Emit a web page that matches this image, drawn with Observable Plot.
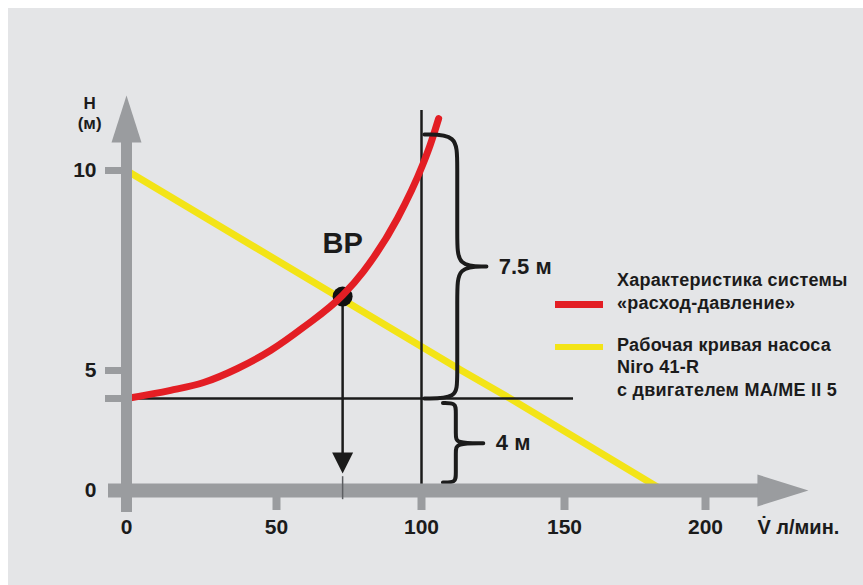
<!DOCTYPE html>
<html>
<head>
<meta charset="utf-8">
<script src="https://cdn.jsdelivr.net/npm/d3@7"></script>
<script src="https://cdn.jsdelivr.net/npm/@observablehq/plot@0.6"></script>
<style>
  html, body { margin: 0; padding: 0; background: #ffffff; }
  #wrap { position: relative; width: 863px; height: 585px; overflow: hidden; }
  #panel { position: absolute; left: 8px; top: 8px; right: 0; bottom: 0; background: #e4e5e7; }
  #chart { position: absolute; left: 0; top: 0; }
  #legend { position: absolute; left: 555px; top: 269px; font-family: "Liberation Sans", Arial, sans-serif; font-weight: bold; font-size: 18px; color: #1b1b1b; letter-spacing: 0.25px; white-space: nowrap; }
  .item { position: relative; padding-left: 62px; line-height: 22.8px; }
  .item + .item { margin-top: 19px; }
  .sw { position: absolute; left: 0; width: 48px; }
</style>
</head>
<body>
<div id="wrap">
  <div id="panel"></div>
  <div id="chart"></div>
  <div id="legend"></div>
</div>
<script>
// ---- data ----
const xTicks = [0, 50, 100, 150, 200];
const yTicks = [0, 4, 5, 10];
const yTickLabels = [0, 5, 10];
const yMinorTicks = [4, 5, 10];

// system characteristic «расход-давление» (red)
const systemQ = [0, 14.7, 25.7, 37, 48, 59.3, 72.8, 80, 91.7, 100.35, 103.1, 106];
const systemH = [4, 4.29, 4.57, 5.05, 5.5, 6.08, 6.88, 7.48, 8.8, 10.13, 10.65, 11.3];

// pump working curve Niro 41-R (yellow)
const pumpQ = [0, 114, 131, 185];
const pumpH = [10, 5, 4, 0];

// operating point BP
const bpLabel = "ВР";
const bpQ = 72.8;
const bpH = 6.85;

// reference lines
const refQ = 100;
const refH = 4;

// braces (height differences)
const braceLabels = ["7.5 м", "4 м"];
const braceFrom = [4, 0.35];
const braceTo = [10.9, 3.8];
const braceMid = [7.6, 2.05];

const legendLabels = ["Характеристика системы<br>«расход-давление»", "Рабочая кривая насоса<br>Niro 41-R<br>с двигателем MA/ME II 5"];
const legendColors = ["#e31e24", "#f3e417"];

// ---- styling ----
const FONT = '"Liberation Sans",Arial,sans-serif';
const GRAY = "#9a9c9f";
const INK = "#1b1b1b";
const RED = legendColors[0];
const YELLOW = legendColors[1];

const system = systemQ.map((q, i) => ({q, h: systemH[i]}));
const pump = pumpQ.map((q, i) => ({q, h: pumpH[i]}));

function brace(i, x0, xb, xt) {
  const y0 = braceFrom[i], y1 = braceTo[i], ym = braceMid[i];
  const d = (y1 - y0) * 0.1;
  return [
    [x0, y1], [xb, y1], [xb, y1 - d], [xb, ym + d], [xb, ym],
    [xt, ym], [xt, ym], [xt, ym],
    [xb, ym], [xb, ym - d], [xb, y0 + d], [xb, y0], [x0, y0]
  ].map(([q, h]) => ({q, h, k: i}));
}
const braces = [...brace(0, 101, 112.5, 122.7), ...brace(1, 107.5, 112, 121.6)];

const arrowUp = {draw(c) { c.moveTo(0, 0); c.lineTo(15, 47); c.lineTo(-15, 47); c.closePath(); }};
const arrowRight = {draw(c) { c.moveTo(0, 0); c.lineTo(-51, 16); c.lineTo(-51, -16); c.closePath(); }};
const arrowDown = {draw(c) { c.moveTo(0, 0); c.lineTo(-10.5, -21); c.lineTo(10.5, -21); c.closePath(); }};

const xAxisStart = -6, xAxisEnd = 219, xAxisTip = 236.5;
const yAxisStart = -0.96, yAxisEnd = 10.8, yAxisTip = 11.875;

const txt = {fontWeight: "bold", fontFamily: FONT, fill: INK};

const chart = Plot.plot({
  width: 863,
  height: 585,
  margin: 0,
  style: {background: "transparent", overflow: "visible"},
  x: {type: "linear", domain: xTicks, range: [126, 276, 421, 564, 705], axis: null},
  y: {type: "linear", domain: yTicks, range: [490, 398, 370, 170], axis: null},
  marks: [
    // pump curve
    Plot.line(pump, {x: "q", y: "h", stroke: YELLOW, strokeWidth: 7}),
    // reference lines
    Plot.ruleY([refH], {x1: 0, x2: 153.2, stroke: INK, strokeWidth: 2.5}),
    Plot.ruleX([refQ], {y1: 0, y2: 11.5, stroke: INK, strokeWidth: 2.5}),
    // drop from BP to the flow axis
    Plot.ruleX([bpQ], {y1: bpH, y2: 1.6, stroke: INK, strokeWidth: 2.5}),
    Plot.dot([{q: bpQ, h: 0.74}], {x: "q", y: "h", symbol: arrowDown, r: 5, fill: INK, stroke: "none"}),
    // operating point
    Plot.dot([{q: bpQ, h: bpH}], {x: "q", y: "h", r: 10, fill: "#111", stroke: "none"}),
    // system curve
    Plot.line(system, {x: "q", y: "h", stroke: RED, strokeWidth: 7, curve: "monotone-x"}),
    // braces
    Plot.line(braces, {x: "q", y: "h", z: "k", stroke: INK, strokeWidth: 4, curve: "basis"}),
    // axes
    Plot.ruleX([0], {y1: yAxisStart, y2: yAxisEnd, stroke: GRAY, strokeWidth: 11}),
    Plot.ruleY(yMinorTicks, {x1: -7, x2: 0, stroke: GRAY, strokeWidth: 7}),
    Plot.ruleY([0], {x1: xAxisStart, x2: xAxisEnd, stroke: GRAY, strokeWidth: 14}),
    Plot.ruleX(xTicks.slice(1), {y1: -0.87, y2: 0, stroke: GRAY, strokeWidth: 8}),
    Plot.dot([{q: 0, h: yAxisTip}], {x: "q", y: "h", symbol: arrowUp, r: 5, fill: GRAY, stroke: "none"}),
    Plot.dot([{q: xAxisTip, h: 0}], {x: "q", y: "h", symbol: arrowRight, r: 5, fill: GRAY, stroke: "none"}),
    Plot.ruleX([bpQ], {y1: -0.4, y2: 0.6, stroke: "#5d5f62", strokeWidth: 1.5}),
    // tick labels
    Plot.text(yTickLabels, {x: -10, y: d => d, text: d => String(d), textAnchor: "end", fontSize: 21, ...txt}),
    Plot.text(xTicks, {x: d => d, y: 0, dy: 37, text: d => String(d), fontSize: 21, ...txt}),
    Plot.text(["H\n(м)"], {x: -12.3, y: 11.45, text: d => d, fontSize: 17, lineHeight: 1.15, ...txt}),
    Plot.text(["V\u0307 л/мин."], {x: 218.4, y: 0, dy: 37, text: d => d, textAnchor: "start", fontSize: 20, ...txt}),
    // annotations
    Plot.text([bpLabel], {x: bpQ, y: 8.18, text: d => d, fontSize: 29, ...txt}),
    Plot.text(braceLabels, {x: [127, 126], y: braceMid, text: d => d, textAnchor: "start", fontSize: 22, ...txt})
  ]
});
document.getElementById("chart").appendChild(chart);

const legend = document.getElementById("legend");
legendLabels.forEach((lab, i) => {
  const div = document.createElement("div");
  div.className = "item";
  const sw = document.createElement("span");
  sw.className = "sw";
  sw.style.background = legendColors[i];
  sw.style.height = i === 0 ? "7px" : "6px";
  sw.style.top = i === 0 ? "31.5px" : "10.5px";
  div.appendChild(sw);
  const t = document.createElement("span");
  t.innerHTML = lab;
  div.appendChild(t);
  legend.appendChild(div);
});
</script>
</body>
</html>
